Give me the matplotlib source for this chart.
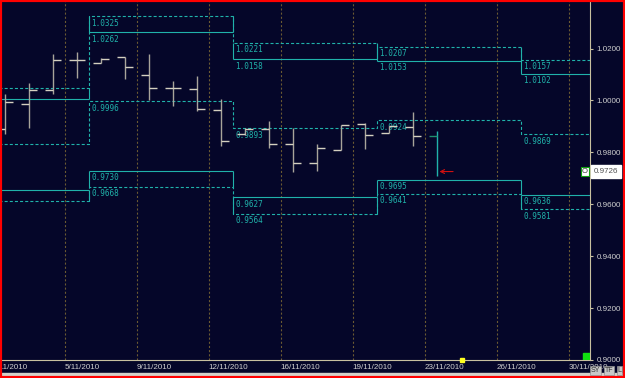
import matplotlib
matplotlib.use('Agg')
import matplotlib.pyplot as plt
import numpy as np
from matplotlib.patches import Rectangle
from matplotlib.ticker import FormatStrFormatter

plt.rcParams['font.family'] = ['Liberation Sans', 'DejaVu Sans']
plt.rcParams['lines.scale_dashes'] = False

# ---- daily bars (OHLC) ----
bar_open = [0.9889, 0.9988, 1.0040, 1.0156, 1.0146, 1.0167, 1.0097, 1.0047, 1.0043, 0.9963,
            0.9870, 0.9889, 0.9834, 0.9760, 0.9808, 0.9908, 0.9873, 0.9899, 0.9864]
bar_high = [1.0024, 1.0066, 1.0179, 1.0186, 1.0163, 1.0167, 1.0178, 1.0075, 1.0094, 1.0006,
            0.9894, 0.9921, 0.9893, 0.9834, 0.9904, 0.9912, 0.9902, 0.9954, 0.9882]
bar_low = [0.9870, 0.9895, 1.0024, 1.0088, 1.0143, 1.0083, 1.0002, 0.9979, 0.9960, 0.9826,
           0.9867, 0.9816, 0.9726, 0.9730, 0.9809, 0.9813, 0.9873, 0.9826, 0.9709]
bar_close = [0.9992, 1.0040, 1.0156, 1.0156, 1.0159, 1.0127, 1.0047, 1.0047, 0.9967, 0.9845,
             0.9889, 0.9834, 0.9758, 0.9815, 0.9904, 0.9868, 0.9902, 0.9864, 0.9726]
last_price = 0.9726

# ---- weekly levels ----
week_first_bar = [-3, 4, 10, 16, 22, 28]   # bar index where each week begins (last = end)
top_outer = [1.0047, 1.0325, 1.0221, 1.0207, 1.0157]   # dashed
top_inner = [1.0006, 1.0262, 1.0158, 1.0153, 1.0102]   # solid
pivot = [0.9832, 0.9996, 0.9893, 0.9924, 0.9869]       # dashed
bot_inner = [0.9654, 0.9730, 0.9627, 0.9695, 0.9636]   # solid
bot_outer = [0.9611, 0.9668, 0.9564, 0.9641, 0.9581]   # dashed

date_labels = ['2/11/2010', '5/11/2010', '9/11/2010', '12/11/2010', '16/11/2010',
               '19/11/2010', '23/11/2010', '26/11/2010', '30/11/2010']

bg = '#050629'
teal = '#20B2AA'
fg = '#c8c0a0'
dash = (0, (2.2, 1.5))

fig = plt.figure(figsize=(6.25, 3.78), dpi=100, facecolor=bg)
ax = fig.add_axes([1 / 625, 18 / 378, 589 / 625, 359 / 378])
ax.set_facecolor(bg)

xlim = (-0.155, 24.39)

# grid lines every 3 bars
grid_pos = [-0.5 + 3 * k for k in range(len(date_labels))]
for g in grid_pos[1:]:
    ax.axvline(g, color='#6b5a32', lw=0.8, ls=(0, (1.5, 1.5)), zorder=1)

# weekly level boxes
edges = [b - 0.5 for b in week_first_bar]
for vals in (top_outer, pivot, bot_outer):
    ax.step(edges, vals + [vals[-1]], where='post', color=teal, lw=0.8, ls=dash, zorder=2)
for vals in (top_inner, bot_inner):
    ax.hlines(vals, edges[:-1], edges[1:], color=teal, lw=0.8, zorder=2)
for outer, inner in ((top_outer, top_inner), (bot_inner, bot_outer)):
    ax.vlines(edges[:-1], inner, outer, color=teal, lw=0.8, zorder=2)
    ax.vlines(edges[1:-1], inner[:-1], outer[:-1], color=teal, lw=0.8, zorder=2)

for w in range(len(pivot)):
    if edges[w] < xlim[0]:
        continue
    for v in (top_outer[w], top_inner[w], pivot[w], bot_inner[w], bot_outer[w]):
        ax.annotate(f'{v:.4f}', xy=(edges[w], v), xytext=(1.8, -5), textcoords='offset points',
                    ha='left', va='center', fontsize=5.5, family='DejaVu Sans Mono',
                    color=teal, zorder=3)

# bars
x = np.arange(len(bar_open))
colors = ['#a8a49a'] * (len(x) - 1) + [teal]
tick_colors = ['#d4d0c0'] * (len(x) - 1) + ['#1f8f6f']
ax.vlines(x, bar_low, bar_high, colors=colors, lw=1.0, zorder=4)
ax.hlines(bar_open, x - 0.33, x, colors=tick_colors, lw=1.0, zorder=4)
ax.hlines(bar_close[:-1], x[:-1], x[:-1] + 0.33, colors=tick_colors[:-1], lw=1.0, zorder=4)

# current price arrow
ax.annotate('', xy=(x[-1], last_price), xytext=(x[-1] + 0.8, last_price),
            arrowprops=dict(arrowstyle='->', color='#d01010', lw=0.8, mutation_scale=7), zorder=5)

ax.set_xlim(*xlim)
ax.set_ylim(0.9, 1.0383)

# axes styling
for s in ('left', 'top'):
    ax.spines[s].set_visible(False)
for s in ('right', 'bottom'):
    ax.spines[s].set_color(fg)
    ax.spines[s].set_linewidth(0.8)
ax.yaxis.tick_right()
ax.set_yticks(np.arange(0.90, 1.021, 0.02))
ax.yaxis.set_major_formatter(FormatStrFormatter('%.4f'))
ax.tick_params(axis='y', colors=fg, labelcolor='#d0d0d0', length=2.2, width=0.8,
               pad=2.5, labelsize=5.8)
ax.set_xticks([])

for g, lab in zip(grid_pos, date_labels):
    ax.annotate(lab, xy=(g, 0), xycoords=ax.get_xaxis_transform(), xytext=(0, -5.5),
                textcoords='offset points', ha='left', va='center', fontsize=5.8,
                color='#d0d0d0', annotation_clip=False)

# price label on the axis
ax.annotate(f'{last_price:.4f}', xy=(1, last_price), xycoords=('axes fraction', 'data'),
            xytext=(3, 0), textcoords='offset points', ha='left', va='center', fontsize=5.8,
            color='#505050', annotation_clip=False,
            bbox=dict(boxstyle='square,pad=0.35', fc='white', ec='white'))
ax.annotate('O', xy=(1, last_price), xycoords=('axes fraction', 'data'),
            xytext=(-1.5, 0), textcoords='offset points', ha='right', va='center', fontsize=5.5,
            color='#303030', annotation_clip=False,
            bbox=dict(boxstyle='square,pad=0.15', fc='white', ec='#10a010', lw=0.8))

# markers on the bottom axis
ax.plot([19.05], [0.9], marker='s', ms=2.5, color='#ffff20', clip_on=False, zorder=6)
ax.add_patch(Rectangle((1 - 7 / 589, 0), 7 / 589, 7 / 359, transform=ax.transAxes,
                       color='#10e010', zorder=6))

# bottom strip, buttons, border
fig.patches.append(Rectangle((0, 1 / 378), 1, 4 / 378, transform=fig.transFigure,
                             color='#d4d0c8', zorder=0))
for bx, lab in ((0.9528, 'SY'), (0.9744, 'TF'), (0.9912, 'L')):
    fig.text(bx, 0.0198, lab, ha='center', va='center', fontsize=5, color='#303030',
             bbox=dict(boxstyle='square,pad=0.12', fc='#c8c8c8', ec='#909090', lw=0.5), zorder=10)
fig.patches.append(Rectangle((0, 0), 1, 1, transform=fig.transFigure, fill=False,
                             ec='#ff0000', lw=3, zorder=11))

fig.savefig('out.png', dpi=100, facecolor=bg)
